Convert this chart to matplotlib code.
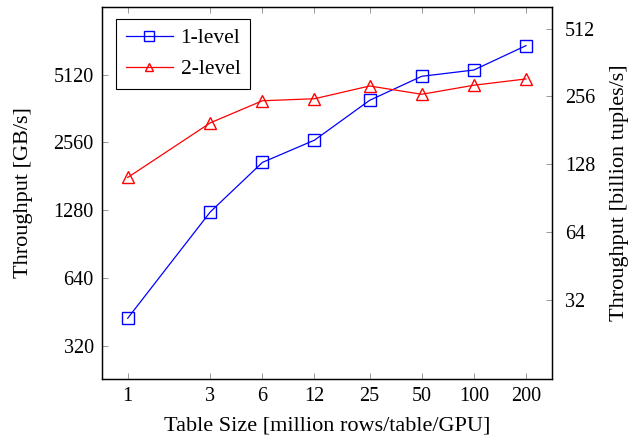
import matplotlib
matplotlib.use("Agg")
import matplotlib.pyplot as plt
from matplotlib.ticker import FixedLocator, NullLocator, FixedFormatter

# ===== Data =====
table_sizes = [1, 3, 6, 12, 25, 50, 100, 200]
one_level = [424, 1258, 2087, 2621, 3940, 5036, 5370, 6890]
two_level = [1789, 3128, 3921, 4003, 4561, 4190, 4596, 4902]

gb_ticks = [320, 640, 1280, 2560, 5120]
tuple_ticks = [32, 64, 128, 256, 512]
BYTES_PER_TUPLE = 16

TICK_FS = 14.5
LABEL_FS = 16

plt.rcParams["font.family"] = ["Liberation Serif", "DejaVu Serif"]

fig = plt.figure(figsize=(6.35, 4.42), dpi=100)
ax = fig.add_axes([0.1606, 0.1425, 0.7092, 0.8423])

ax.plot(table_sizes, one_level, color="blue", marker="s", markersize=8.5,
        markerfacecolor="none", markeredgewidth=1.0, linewidth=0.9, label="1-level")
ax.plot(table_sizes, two_level, color="red", marker="^", markersize=8,
        markerfacecolor="none", markeredgewidth=1.0, linewidth=0.9, label="2-level")

ax.set_xscale("log", base=2)
ax.set_yscale("log", base=2)
ax.set_xlim(0.71, 284)
ax.set_ylim(227.7, 10260)

ax.xaxis.set_major_locator(FixedLocator(table_sizes))
ax.xaxis.set_major_formatter(FixedFormatter([str(v) for v in table_sizes]))
ax.xaxis.set_minor_locator(NullLocator())
ax.yaxis.set_major_locator(FixedLocator(gb_ticks))
ax.yaxis.set_major_formatter(FixedFormatter([str(v) for v in gb_ticks]))
ax.yaxis.set_minor_locator(NullLocator())

ax.tick_params(axis="x", which="major", direction="in", top=True, length=4.5,
               width=0.6, color="#888888", labelsize=TICK_FS, pad=6)
ax.tick_params(axis="y", which="major", direction="in", right=False, length=4.5,
               width=0.6, color="#888888", labelsize=TICK_FS, pad=6)

ax.set_xlabel("Table Size [million rows/table/GPU]", fontsize=LABEL_FS, labelpad=7)
ax.set_ylabel("Throughput [GB/s]", fontsize=LABEL_FS, labelpad=15)

ax2 = ax.twinx()
ax2.set_yscale("log", base=2)
lo, hi = ax.get_ylim()
ax2.set_ylim(lo / BYTES_PER_TUPLE, hi / BYTES_PER_TUPLE)
ax2.yaxis.set_major_locator(FixedLocator(tuple_ticks))
ax2.yaxis.set_major_formatter(FixedFormatter([str(v) for v in tuple_ticks]))
ax2.yaxis.set_minor_locator(NullLocator())
ax2.tick_params(axis="y", which="major", direction="in", length=4.5,
                width=0.6, color="#888888", labelsize=TICK_FS, pad=9)
ax2.set_ylabel("Throughput [billion tuples/s]", fontsize=LABEL_FS, labelpad=11)

for a in (ax, ax2):
    for sp in a.spines.values():
        sp.set_linewidth(0.9)

leg = ax.legend(loc="upper left", bbox_to_anchor=(0.031, 0.968), borderaxespad=0,
                fontsize=15.5, frameon=True, fancybox=False, edgecolor="black",
                framealpha=1, handlelength=2.2, handletextpad=0.35,
                borderpad=0.45, labelspacing=0.5, markerscale=0.8)
leg.get_frame().set_linewidth(0.8)

fig.savefig("out.png", dpi=100)
